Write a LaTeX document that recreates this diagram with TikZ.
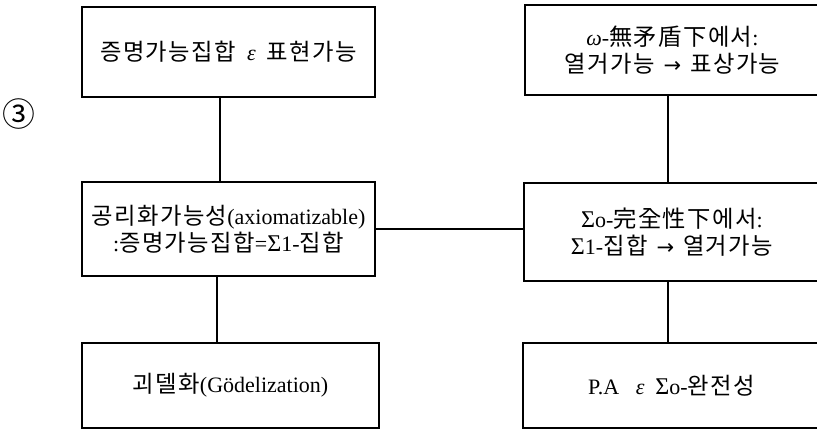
\documentclass[tikz,border=0pt]{standalone}
\usepackage{fontspec}
\setmainfont{Liberation Serif}
\newfontfamily\kr{Noto Sans CJK KR}[Scale=1.06,LetterSpace=6]
\newfontfamily\symf{DejaVu Sans}
\newcommand{\bigsig}{{\fontsize{24}{26}\selectfont Σ}}
\newcommand{\rarr}{\hspace{9pt}{\symf\fontsize{21}{26}\selectfont →}\hspace{9pt}}
\begin{document}
\begin{tikzpicture}[x=1pt,y=-1pt,
  box/.style={draw, line width=1.3pt, rectangle, inner sep=0pt, align=center,
    font=\fontsize{22}{27}\selectfont},
  link/.style={line width=2.8pt},
  mark3/.style={inner sep=0pt, font=\fontsize{31}{31}\selectfont\kr}]
\clip (0,0) rectangle (817,430);
\node[mark3] (three) at (19,114) {③};
\node[box, minimum width=293pt, minimum height=90pt] (tl) at (228.5,52)
  {{\kr 증명가능집합}\ \ \textit{ε}\ \ {\kr 표현가능}};
\node[box, minimum width=293pt, minimum height=94pt] (ml) at (228.5,229)
  {{\kr 공리화가능성}(axiomatizable)\\:{\kr 증명가능집합}=\bigsig1-{\kr 집합}};
\node[box, minimum width=297pt, minimum height=85pt] (bl) at (230.5,385.5)
  {{\kr 괴델화}(Gödelization)};
\node[box, minimum width=295pt, minimum height=90pt] (tr) at (672.5,50)
  {\textit{ω}-{\kr 無矛盾下에서}:\\{\kr 열거가능}\rarr{\kr 표상가능}};
\node[box, minimum width=296pt, minimum height=98pt] (mr) at (672,232)
  {\bigsig o-{\kr 完全性下에서}:\\\bigsig 1-{\kr 집합}\rarr{\kr 열거가능}};
\node[box, minimum width=297pt, minimum height=85pt] (br) at (671.5,385.5)
  {P.A\ \ \ \textit{ε}\ \ \bigsig o-{\kr 완전성}};
\draw[link] ([xshift=-8.5pt]tl.south) -- ([xshift=-8.5pt]tl.south |- ml.north);
\draw[link] ([xshift=-11.5pt]ml.south) -- ([xshift=-11.5pt]ml.south |- bl.north);
\draw[link] ([xshift=-4.5pt]tr.south) -- ([xshift=-4.5pt]tr.south |- mr.north);
\draw[link] ([xshift=-4pt]mr.south) -- ([xshift=-4pt]mr.south |- br.north);
\draw[link] (ml.east) -- (ml.east -| mr.west);
\end{tikzpicture}
\end{document}
